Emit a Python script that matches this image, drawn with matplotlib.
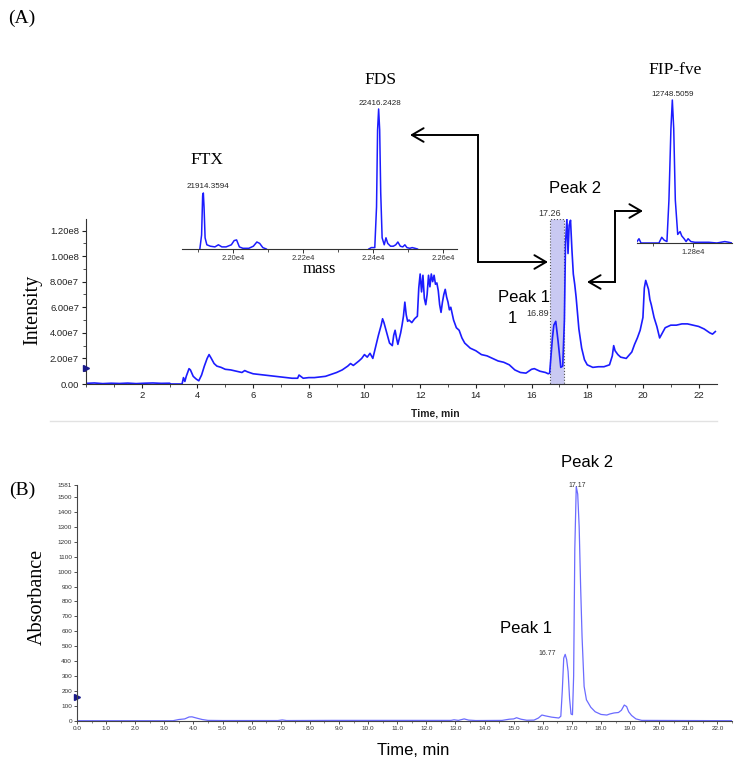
import numpy as np
import matplotlib
matplotlib.use("Agg")
import matplotlib.pyplot as plt
from matplotlib.lines import Line2D
import matplotlib.ticker as mticker

plt.rcParams['font.family'] = ['Liberation Sans', 'DejaVu Sans']
SERIF = 'Liberation Serif'

W, H = 740, 767

#%% data (A) - total ion chromatogram, intensity in units of 1e7
tic_time = [0.0, 0.3, 0.6, 0.9, 1.2, 1.5, 1.8, 2.1, 2.4, 2.7, 3.0, 3.05, 3.4, 3.45, 3.5, 3.55, 3.6, 3.7,
            3.75, 3.85, 3.95, 4.05, 4.15, 4.25, 4.35, 4.42, 4.5, 4.6, 4.7, 4.85, 5.0, 5.2, 5.4, 5.6,
            5.7, 5.8, 6.0, 6.2, 6.4, 6.6, 6.8, 7.0, 7.2, 7.4, 7.6, 7.65, 7.8, 8.0, 8.2, 8.4, 8.6,
            8.8, 9.0, 9.2, 9.4, 9.5, 9.6, 9.8, 9.9, 10.0, 10.1, 10.2, 10.3, 10.4, 10.5, 10.6, 10.65,
            10.7, 10.8, 10.9, 11.0, 11.05, 11.1, 11.15, 11.2, 11.3, 11.35, 11.4, 11.45, 11.5, 11.55,
            11.6, 11.7, 11.8, 11.9, 11.95, 12.0, 12.05, 12.1, 12.15, 12.2, 12.25, 12.3, 12.35, 12.4,
            12.45, 12.5, 12.55, 12.6, 12.65, 12.7, 12.75, 12.8, 12.85, 12.9, 12.95, 13.0, 13.05,
            13.1, 13.2, 13.3, 13.4, 13.5, 13.6, 13.7, 13.8, 14.0, 14.2, 14.4, 14.6, 14.8, 15.0,
            15.2, 15.4, 15.6, 15.8, 16.0, 16.1, 16.3, 16.5, 16.6, 16.65, 16.7, 16.75, 16.8, 16.87,
            16.95, 17.05, 17.12, 17.18, 17.22, 17.27, 17.31, 17.35, 17.4, 17.45, 17.5, 17.55, 17.6,
            17.7, 17.8, 17.9, 18.0, 18.2, 18.4, 18.6, 18.8, 18.9, 18.95, 19.0, 19.1, 19.2, 19.4,
            19.6, 19.7, 19.8, 19.9, 20.0, 20.05, 20.1, 20.2, 20.25, 20.3, 20.4, 20.5, 20.6, 20.7,
            20.8, 21.0, 21.2, 21.4, 21.6, 21.8, 22.0, 22.2, 22.4, 22.5, 22.6]
tic_int = [0.05, 0.08, 0.03, 0.06, 0.04, 0.07, 0.03, 0.06, 0.08, 0.05, 0.06, 0.0, 0.0, 0.0, 0.5, 0.2, 0.6, 1.2,
           1.1, 0.6, 0.4, 0.25, 0.7, 1.4, 2.0, 2.3, 2.0, 1.6, 1.4, 1.3, 1.15, 1.1, 1.0, 0.9,
           1.05, 0.95, 0.8, 0.75, 0.7, 0.65, 0.6, 0.55, 0.5, 0.45, 0.45, 0.7, 0.45, 0.5, 0.5, 0.55, 0.6,
           0.75, 0.9, 1.1, 1.4, 1.6, 1.45, 1.8, 2.0, 2.3, 2.1, 2.4, 2.0, 2.9, 3.8, 4.6, 5.1,
           4.8, 4.0, 3.2, 3.0, 3.8, 4.2, 3.6, 3.1, 4.0, 4.6, 5.3, 6.4, 5.4, 4.9,
           5.0, 4.8, 5.1, 5.3, 7.5, 8.6, 7.2, 8.5, 6.7, 6.2, 7.0, 8.5, 7.6, 8.6,
           8.0, 8.5, 7.8, 7.9, 7.3, 6.2, 5.6, 6.4, 7.0, 7.4, 6.8, 6.4, 5.8,
           6.0, 5.0, 4.4, 4.2, 3.6, 3.2, 3.0, 2.8, 2.6, 2.3, 2.2, 2.0, 1.8, 1.7,
           1.5, 1.1, 0.9, 0.85, 1.15, 1.2, 1.0, 0.9, 0.8, 0.85, 2.2, 3.6, 4.6, 4.9,
           3.4, 1.3, 1.4, 5.0, 11.0, 12.9, 10.2, 12.4, 12.8, 10.5, 8.6, 7.8, 6.8,
           4.3, 2.8, 1.9, 1.5, 1.3, 1.35, 1.35, 1.5, 2.2, 3.0, 2.6, 2.3, 2.1, 2.0,
           2.5, 3.1, 3.6, 4.2, 5.2, 7.5, 8.1, 7.4, 6.6, 6.2, 5.2, 4.5, 3.6, 4.0,
           4.4, 4.6, 4.6, 4.7, 4.7, 4.6, 4.5, 4.3, 4.0, 3.9, 4.1]
tic_yticks = [0, 2e7, 4e7, 6e7, 8e7, 1e8, 1.2e8]
tic_ylabels = ["0.00", "2.00e7", "4.00e7", "6.00e7", "8.00e7", "1.00e8", "1.20e8"]
peak_window = (16.66, 17.16)

# mass spectra insets (relative intensity)
ftx_mass = [21905, 21910, 21913, 21915, 21917, 21920, 21925, 21935, 21948, 21958, 21968, 21980,
            21995, 22003, 22010, 22018, 22028, 22045, 22058, 22068, 22076, 22085, 22095]
ftx_int = [0, 10, 38, 40, 30, 8, 3, 2, 1.5, 3, 1.5, 1.5, 3, 6, 6.5, 1.5, 0.5, 0.5, 2, 5, 4, 1, 0]
fds_mass = [22388, 22395, 22405, 22410, 22413, 22416, 22419, 22422, 22426, 22432, 22437, 22442,
            22450, 22458, 22465, 22471, 22478, 22485, 22491, 22497, 22505, 22512, 22520, 22527]
fds_int = [0, 1, 1, 30, 85, 100, 85, 40, 8, 3, 8, 4, 2, 2, 3, 5, 2, 1.5, 3, 1, 0.5, 1, 0.5, 0]
fip_mass = [12660, 12665, 12670, 12680, 12700, 12715, 12722, 12728, 12735, 12740, 12745, 12748.5,
            12752, 12756, 12762, 12768, 12772, 12778, 12783, 12788, 12795, 12805, 12840, 12860,
            12870, 12880, 12890, 12898]
fip_int = [1, 3, 0, 0, 0, 0, 4, 2, 1, 30, 80, 100, 80, 30, 6, 8, 5, 3, 1, 3, 1, 0.5, 0.5, 0,
           0.5, 1, 0.5, 0]

#%% data (B) - UV chromatogram
uv_time = [0.0, 3.3, 3.5, 3.7, 3.85, 3.95, 4.1, 4.3, 4.5, 5.0, 6.9, 7.05, 7.2, 8.8, 10.0, 12.85,
           12.95, 13.1, 13.3, 13.45, 13.7, 14.6, 14.85, 15.0, 15.1, 15.25, 15.45, 15.7, 15.85,
           15.97, 16.1, 16.3, 16.55, 16.62, 16.67, 16.72, 16.77, 16.82, 16.87, 16.92, 16.97,
           17.02, 17.06, 17.1, 17.15, 17.2, 17.25, 17.3, 17.35, 17.42, 17.5, 17.65, 17.8, 18.0,
           18.2, 18.3, 18.45, 18.6, 18.7, 18.8, 18.88, 18.95, 19.05, 19.2, 19.4, 22.5]
uv_abs = [0, 0, 8, 12, 25, 26, 18, 8, 2, 1, 1, 5, 1, 2, 2, 2,
          6, 2, 12, 4, 1, 2, 10, 12, 20, 10, 3, 4, 18,
          38, 32, 24, 18, 30, 200, 420, 445, 410, 330, 150, 45,
          40, 300, 1150, 1570, 1520, 1300, 900, 560, 230, 140, 90, 60, 42,
          38, 45, 52, 55, 70, 105, 95, 60, 35, 12, 2, 0]
uv_yticks = [0, 100, 200, 300, 400, 500, 600, 700, 800, 900, 1000, 1100, 1200, 1300, 1400, 1500, 1581]

BLUE = '#1c1cff'
UVBLUE = '#6b6bff'


def figxy(px, py):
    return px / W, 1 - py / H


fig = plt.figure(figsize=(W / 100, H / 100), dpi=100)

#%% panel A
ax1 = fig.add_axes([86 / W, 1 - 384 / H, (717 - 86) / W, (384 - 219) / H])
ax1.axvspan(*peak_window, facecolor='#c9c9f2', edgecolor='#555555', linestyle=':', lw=0.8, zorder=1)
ax1.plot(tic_time, np.array(tic_int) * 1e7, color=BLUE, lw=1.2, zorder=2)
ax1.plot([0], [1.25e7], marker='>', color='#1a1a8a', ms=5, clip_on=False, zorder=3)
ax1.set_xlim(0, 22.66)
ax1.set_ylim(0, 1.29e8)
ax1.spines[['top', 'right']].set_visible(False)
for s in ['left', 'bottom']:
    ax1.spines[s].set_color('#333333')
ax1.set_yticks(tic_yticks)
ax1.set_yticklabels(tic_ylabels)
ax1.yaxis.set_minor_locator(mticker.MultipleLocator(1e7))
ax1.xaxis.set_major_locator(mticker.FixedLocator(range(2, 23, 2)))
ax1.xaxis.set_minor_locator(mticker.MultipleLocator(1))
ax1.tick_params(which='major', length=3, width=0.8, labelsize=6.8, pad=2, colors='#222222')
ax1.tick_params(which='minor', length=2, width=0.6, colors='#333333')
ax1.set_xlabel('Time, min', fontsize=7.5, fontweight='bold', color='#222222')
ax1.xaxis.set_label_coords(0.553, -0.15)

ax1.text(15.73, 6.8e7, 'Peak 1', fontsize=12, ha='center', va='center')
ax1.text(15.3, 5.1e7, '1', fontsize=12, ha='center', va='center')
ax1.text(16.23, 5.5e7, '16.89', fontsize=6.5, ha='center', va='center', color='#333333')
ax1.text(17.56, 1.525e8, 'Peak 2', fontsize=12, ha='center', va='center')
ax1.text(16.66, 1.33e8, '17.26', fontsize=6.5, ha='center', va='center', color='#333333')

fig.text(*figxy(33, 310), 'Intensity', family=SERIF, fontsize=14.5, rotation=90, ha='center', va='center')
fig.text(*figxy(22, 18), '(A)', family=SERIF, fontsize=14, ha='center', va='center')
fig.add_artist(Line2D([50 / W, 717 / W], [1 - 421 / H] * 2, color='#e2e2e2', lw=1))


def ms_inset(rect, xlim, ylim, segments, major, minor, labels):
    ax = fig.add_axes(rect)
    ax.patch.set_alpha(0)
    for m, i in segments:
        ax.plot(m, i, color=BLUE, lw=1.1)
    ax.set_xlim(*xlim)
    ax.set_ylim(*ylim)
    ax.spines[['top', 'right', 'left']].set_visible(False)
    ax.spines['bottom'].set_color('#333333')
    ax.set_yticks([])
    ax.set_xticks(major)
    ax.set_xticklabels(labels)
    ax.set_xticks(minor, minor=True)
    ax.tick_params(which='major', length=3, width=0.7, labelsize=5.5, pad=1.5, colors='#333333')
    ax.tick_params(which='minor', length=2, width=0.6, colors='#333333')
    return ax


ins1 = ms_inset([182 / W, 1 - 249 / H, 275 / W, 149 / H], (21854, 22640), (0, 106.4),
                [(ftx_mass, ftx_int), (fds_mass, fds_int)],
                [22000, 22200, 22400, 22600], [21900, 22100, 22300, 22500],
                ['2.20e4', '2.22e4', '2.24e4', '2.26e4'])
ins1.set_xlabel('mass', family=SERIF, fontsize=12, labelpad=-1)
ins1.text(21925, 63.6, 'FTX', family=SERIF, fontsize=12.5, ha='center', va='center')
ins1.text(21928, 44.3, '21914.3594', fontsize=5.8, ha='center', va='center', color='#222222')
ins1.text(22420, 121, 'FDS', family=SERIF, fontsize=12.5, ha='center', va='center')
ins1.text(22420, 104, '22416.2428', fontsize=5.8, ha='center', va='center', color='#222222')

ins2 = ms_inset([637 / W, 1 - 243 / H, 95 / W, 148 / H], (12660, 12898), (0, 103.5),
                [(fip_mass, fip_int)], [12800], [12700], ['1.28e4'])
ins2.text(12755, 121, 'FIP-fve', family=SERIF, fontsize=12.5, ha='center', va='center')
ins2.text(12750, 104, '12748.5059', fontsize=5.8, ha='center', va='center', color='#222222')

# connecting arrows (pixel positions)
ARROW = dict(arrowstyle='->,head_length=0.6,head_width=0.35', lw=1.4, color='black',
             mutation_scale=14, shrinkA=0, shrinkB=0)


def elbow_arrow(pts):
    fxy = [figxy(*p) for p in pts]
    fig.add_artist(Line2D([p[0] for p in fxy[1:-1]], [p[1] for p in fxy[1:-1]], color='black', lw=1.4))
    ax1.annotate('', xy=fxy[0], xytext=fxy[1], xycoords='figure fraction', arrowprops=ARROW)
    ax1.annotate('', xy=fxy[-1], xytext=fxy[-2], xycoords='figure fraction', arrowprops=ARROW)


elbow_arrow([(410, 135), (478, 135), (478, 262), (548, 262)])
elbow_arrow([(643, 211), (615, 211), (615, 282), (587, 282)])

#%% panel B
ax2 = fig.add_axes([77 / W, 1 - 720.7 / H, (732 - 77) / W, (720.7 - 485) / H])
ax2.plot(uv_time, uv_abs, color=UVBLUE, lw=0.9)
ax2.plot([0], [160], marker='>', color='#1a1a8a', ms=4, clip_on=False)
ax2.set_xlim(0, 22.5)
ax2.set_ylim(0, 1581)
ax2.spines[['top', 'right']].set_visible(False)
for s in ['left', 'bottom']:
    ax2.spines[s].set_color('#444444')
    ax2.spines[s].set_linewidth(0.8)
ax2.set_yticks(uv_yticks)
ax2.set_yticklabels([str(v) for v in uv_yticks])
ax2.xaxis.set_major_locator(mticker.MultipleLocator(1))
ax2.xaxis.set_major_formatter(mticker.FormatStrFormatter('%.1f'))
ax2.xaxis.set_minor_locator(mticker.MultipleLocator(0.5))
ax2.tick_params(which='major', length=2, width=0.6, labelsize=4.6, pad=1.5, colors='#333333')
ax2.tick_params(which='minor', length=1.2, width=0.5, colors='#555555')
ax2.set_xlabel('Time, min', fontsize=12)
ax2.xaxis.set_label_coords(0.513, -0.095)

ax2.text(16.15, 454, '16.77', fontsize=5, ha='center', va='center', color='#333333')
ax2.text(15.44, 620, 'Peak 1', fontsize=12, ha='center', va='center')
ax2.text(17.18, 1555, '17.17', fontsize=5, ha='center', va='bottom', color='#333333')
ax2.text(17.52, 1730, 'Peak 2', fontsize=12, ha='center', va='center')

fig.text(*figxy(37, 597), 'Absorbance', family=SERIF, fontsize=14.5, rotation=90, ha='center', va='center')
fig.text(*figxy(22, 490), '(B)', family=SERIF, fontsize=14, ha='center', va='center')

plt.savefig("out.png", dpi=100)
